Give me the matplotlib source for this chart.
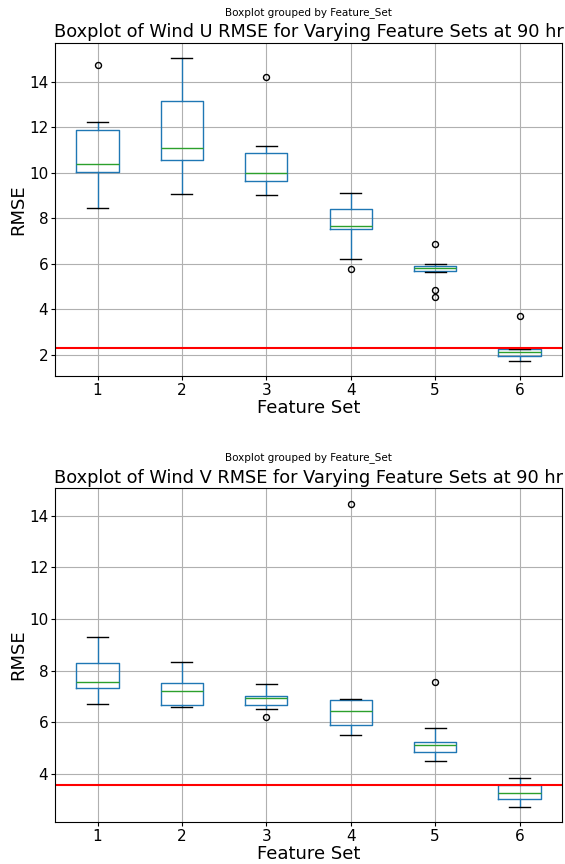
import matplotlib
matplotlib.use('Agg')
import matplotlib.pyplot as plt

# feature sets on the x axis
feature_sets = [1, 2, 3, 4, 5, 6]

# wind U rmse, box statistics per feature set
u_whislo = [8.45, 9.06, 9.03, 6.21, 5.65, 1.74]
u_q1 = [10.03, 10.57, 9.62, 7.53, 5.71, 1.97]
u_med = [10.38, 11.08, 9.98, 7.66, 5.81, 2.12]
u_q3 = [11.89, 13.17, 10.88, 8.40, 5.91, 2.26]
u_whishi = [12.25, 15.02, 11.16, 9.11, 6.00, 2.26]
u_fliers = [[14.73], [], [14.22], [5.77], [6.87, 4.84, 4.56], [3.73]]
u_ref = 2.29

# wind V rmse
v_whislo = [6.70, 6.57, 6.50, 5.51, 4.48, 2.70]
v_q1 = [7.32, 6.66, 6.67, 5.88, 4.85, 3.03]
v_med = [7.54, 7.19, 6.93, 6.44, 5.10, 3.25]
v_q3 = [8.30, 7.50, 7.01, 6.87, 5.23, 3.57]
v_whishi = [9.31, 8.32, 7.47, 6.91, 5.78, 3.82]
v_fliers = [[], [], [6.19], [14.44], [7.57], []]
v_ref = 3.58

plt.rcParams.update({'font.family': 'DejaVu Sans'})


def make_stats(lo, q1, med, q3, hi, fl):
    return [dict(whislo=a, q1=b, med=c, q3=d, whishi=e, fliers=f)
            for a, b, c, d, e, f in zip(lo, q1, med, q3, hi, fl)]


def draw_panel(ax, stats, ref, title, ylim):
    ax.bxp(stats, positions=feature_sets, widths=0.5,
           boxprops=dict(color='#1f77b4', lw=1.0),
           whiskerprops=dict(color='#1f77b4', lw=1.0),
           capprops=dict(color='black', lw=1.0),
           medianprops=dict(color='#2ca02c', lw=1.0),
           flierprops=dict(marker='o', markerfacecolor='none',
                           markeredgecolor='black', markersize=4.3, lw=0))
    ax.axhline(ref, color='red', lw=1.5)
    ax.grid(True, color='#b0b0b0', lw=0.8)
    ax.set_axisbelow(True)
    ax.set_xlim(0.5, 6.5)
    ax.set_ylim(ylim)
    ax.set_xticks(feature_sets)
    ax.set_xticklabels([str(k) for k in feature_sets])
    ax.tick_params(labelsize=11, length=3, pad=2)
    ax.set_xlabel('Feature Set', fontsize=13, labelpad=1)
    ax.set_ylabel('RMSE', fontsize=13, labelpad=1)
    ax.set_title(title, fontsize=12.8, pad=4)


fig = plt.figure(figsize=(5.65, 8.64), dpi=100)
ax1 = fig.add_axes([0.0979, 0.5648, 0.8963, 0.386])
ax2 = fig.add_axes([0.0979, 0.0486, 0.8963, 0.3862])

draw_panel(ax1, make_stats(u_whislo, u_q1, u_med, u_q3, u_whishi, u_fliers),
           u_ref, 'Boxplot of Wind U RMSE for Varying Feature Sets at 90 hr', (1.08, 15.72))
draw_panel(ax2, make_stats(v_whislo, v_q1, v_med, v_q3, v_whishi, v_fliers),
           v_ref, 'Boxplot of Wind V RMSE for Varying Feature Sets at 90 hr', (2.13, 15.06))

fig.text(0.546, 0.986, 'Boxplot grouped by Feature_Set', ha='center', va='center', fontsize=7.5)
fig.text(0.546, 0.470, 'Boxplot grouped by Feature_Set', ha='center', va='center', fontsize=7.5)

fig.savefig('out.png', dpi=100, facecolor='white')
plt.close(fig)
